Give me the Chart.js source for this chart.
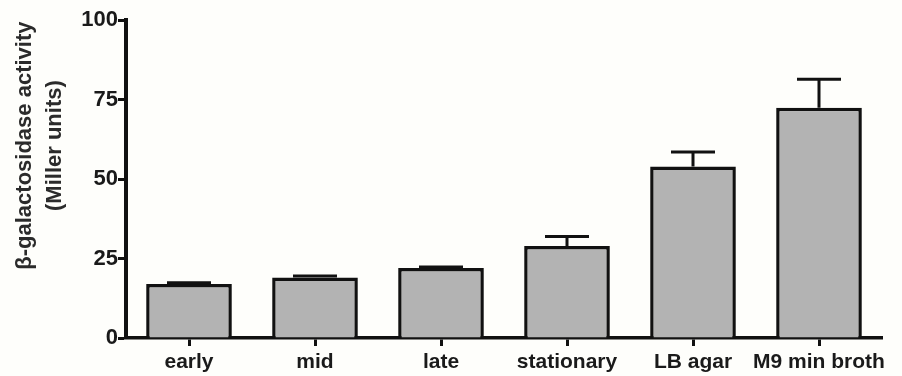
<!DOCTYPE html>
<html>
<head>
<meta charset="utf-8">
<script src="https://cdn.jsdelivr.net/npm/chart.js@4.4.1/dist/chart.umd.min.js"></script>
<style>
  html, body { margin: 0; padding: 0; background: #fefefb; }
  #wrap { width: 902px; height: 376px; }
</style>
</head>
<body>
<div id="wrap"><canvas id="c" width="902" height="376"></canvas></div>
<script>
// Growth conditions and measured activity (mean and upper SEM)
const categories = ['early', 'mid', 'late', 'stationary', 'LB agar', 'M9 min broth'];
const activity = [17.0, 19.0, 22.0, 28.9, 53.9, 72.4];
const errorUp = [0.4, 0.5, 0.3, 3.0, 4.6, 9.0];
const yTicks = [0, 25, 50, 75, 100];
const yTitle = ['β-galactosidase activity', '(Miller units)'];

const FONT = 'Liberation Sans, Arial, Helvetica, sans-serif';

// Draws one-sided (upper) error bars using the value scale
const errorBars = {
  id: 'errorBars',
  afterDatasetsDraw(chart) {
    const ctx = chart.ctx;
    const y = chart.scales.y;
    const meta = chart.getDatasetMeta(0);
    ctx.save();
    ctx.strokeStyle = '#111';
    ctx.lineWidth = 3;
    ctx.lineCap = 'butt';
    meta.data.forEach((bar, i) => {
      const x = bar.x;
      const y0 = y.getPixelForValue(activity[i]);
      const y1 = y.getPixelForValue(activity[i] + errorUp[i]);
      ctx.beginPath();
      ctx.moveTo(x, y0);
      ctx.lineTo(x, y1);
      ctx.moveTo(x - 22, y1);
      ctx.lineTo(x + 22, y1);
      ctx.stroke();
    });
    ctx.restore();
  }
};

// Two-line rotated y-axis title, set a little above the axis middle
const axisTitle = {
  id: 'axisTitle',
  afterDraw(chart) {
    const ctx = chart.ctx;
    const area = chart.chartArea;
    const cy = area.top + (area.bottom - area.top) * 0.395;
    ctx.save();
    ctx.fillStyle = '#2b2b2b';
    ctx.font = 'bold 22px ' + FONT;
    ctx.textAlign = 'center';
    ctx.textBaseline = 'middle';
    [25, 55].forEach((x, i) => {
      ctx.save();
      ctx.translate(x, cy);
      ctx.rotate(-Math.PI / 2);
      ctx.fillText(yTitle[i], 0, 0);
      ctx.restore();
    });
    ctx.restore();
  }
};

new Chart(document.getElementById('c'), {
  type: 'bar',
  data: {
    labels: categories,
    datasets: [{
      data: activity,
      backgroundColor: '#b3b3b3',
      borderColor: '#111',
      borderWidth: 3.5,
      borderSkipped: 'bottom',
      categoryPercentage: 1,
      barPercentage: 0.68
    }]
  },
  options: {
    responsive: false,
    animation: false,
    devicePixelRatio: 1,
    layout: { padding: { top: 20, right: 20, left: 0, bottom: 0 } },
    plugins: { legend: { display: false }, tooltip: { enabled: false } },
    scales: {
      x: {
        offset: true,
        grid: { offset: false, drawOnChartArea: false, drawTicks: true, tickLength: 8, tickWidth: 3, tickColor: '#111' },
        border: { display: true, color: '#111', width: 3.5 },
        ticks: { color: '#1a1a1a', font: { family: FONT, size: 21, weight: 'bold' }, padding: 4, maxRotation: 0, autoSkip: false },
        afterFit(s) { s.height = 38; }
      },
      y: {
        min: 0,
        max: 100,
        afterBuildTicks(s) { s.ticks = yTicks.map(v => ({ value: v })); },
        grid: { drawOnChartArea: false, drawTicks: true, tickLength: 8, tickWidth: 3, tickColor: '#111' },
        border: { display: true, color: '#111', width: 4 },
        ticks: { color: '#1a1a1a', font: { family: FONT, size: 22, weight: 'bold' }, padding: 0 },
        afterFit(s) { s.width = 126; }
      }
    }
  },
  plugins: [errorBars, axisTitle]
});
</script>
</body>
</html>
